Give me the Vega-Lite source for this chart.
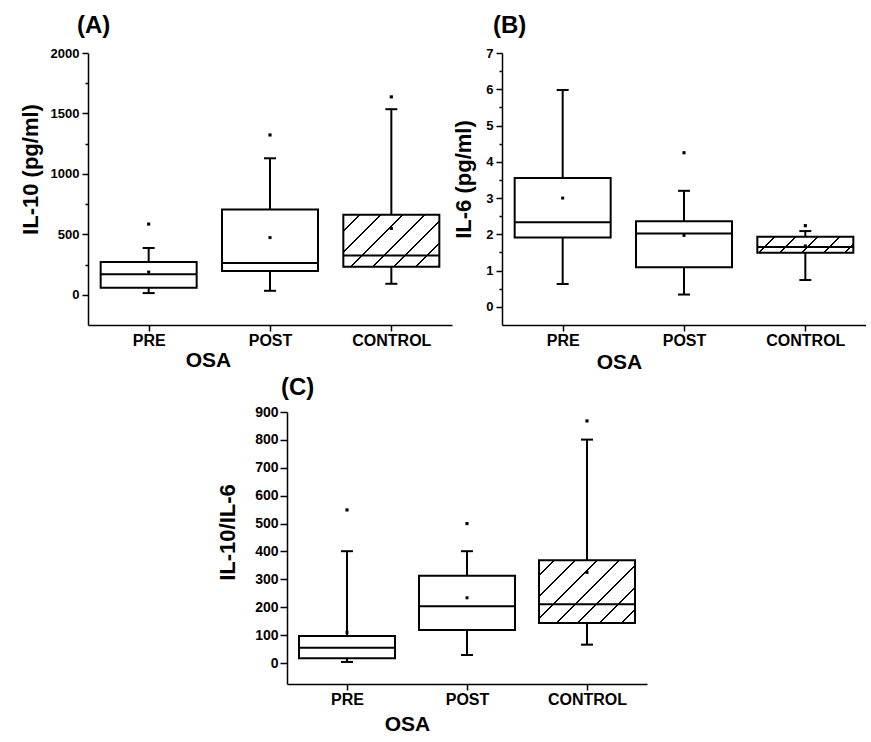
{
  "$schema": "https://vega.github.io/schema/vega-lite/v6.json",
  "padding": {"left": 19, "top": 14, "right": 0, "bottom": 0},
  "background": "white",
  "config": {
    "font": "Liberation Sans",
    "view": {"stroke": null},
    "axis": {
      "grid": false,
      "domainColor": "black",
      "domainWidth": 1.5,
      "tickColor": "black",
      "tickWidth": 1.5,
      "labelColor": "black",
      "labelFont": "Liberation Sans",
      "labelFontWeight": "bold",
      "labelOverlap": false,
      "labelFlush": false,
      "titleColor": "black",
      "titleFont": "Liberation Sans",
      "titleFontWeight": "bold"
    },
    "tick": {"opacity": 1},
    "title": {"font": "Liberation Sans", "fontWeight": "bold", "fontSize": 24, "color": "black", "anchor": "start", "frame": "group"}
  },
  "datasets": {
    "A": [
      {"group": "PRE", "lower": 14, "q1": 58, "median": 169, "q3": 271, "upper": 387, "mean": 188, "outlier": 585},
      {"group": "POST", "lower": 33, "q1": 197, "median": 263, "q3": 705, "upper": 1129, "mean": 473, "outlier": 1322},
      {"group": "CONTROL", "lower": 91, "q1": 232, "median": 324, "q3": 661, "upper": 1535, "mean": 548, "outlier": 1637}
    ],
    "B": [
      {"group": "PRE", "lower": 0.63, "q1": 1.91, "median": 2.33, "q3": 3.55, "upper": 5.98, "mean": 3.0, "outlier": null},
      {"group": "POST", "lower": 0.34, "q1": 1.09, "median": 2.02, "q3": 2.36, "upper": 3.2, "mean": 1.97, "outlier": 4.25},
      {"group": "CONTROL", "lower": 0.74, "q1": 1.49, "median": 1.65, "q3": 1.93, "upper": 2.09, "mean": 1.68, "outlier": 2.24}
    ],
    "C": [
      {"group": "PRE", "lower": 4, "q1": 17, "median": 55, "q3": 97, "upper": 401, "mean": 110, "outlier": 549},
      {"group": "POST", "lower": 29, "q1": 119, "median": 204, "q3": 313, "upper": 401, "mean": 234, "outlier": 500},
      {"group": "CONTROL", "lower": 66, "q1": 144, "median": 211, "q3": 369, "upper": 801, "mean": 325, "outlier": 868}
    ]
  },
  "spacing": 4,
  "vconcat": [
    {
      "spacing": 50,
      "bounds": "flush",
      "hconcat": [
        {
          "width": 364,
          "height": 272,
          "title": {"text": "(A)", "dx": -11, "offset": 9},
          "data": {"name": "A"},
          "encoding": {
            "x": {
              "field": "group", "type": "nominal", "sort": ["PRE", "POST", "CONTROL"],
              "scale": {"type": "point", "padding": 0.5},
              "axis": {"title": "OSA", "labelAngle": 0, "labelFontSize": 16, "labelPadding": 1, "tickSize": 6,
                       "titleFontSize": 21, "titleX": 120, "titleY": 41, "titleAlign": "center", "titleBaseline": "alphabetic"}
            }
          },
          "resolve": {"axis": {"y": "independent"}},
          "layer": [
            {
              "mark": {"type": "rule", "strokeWidth": 2, "color": "black"},
              "encoding": {
                "y": {"field": "lower", "type": "quantitative",
                      "scale": {"domain": [-250, 2000], "nice": false, "zero": false},
                      "axis": {"orient": "left", "offset": 0, "title": "IL-10 (pg/ml)", "values": [0, 500, 1000, 1500, 2000], "format": "d", "labelFontSize": 13, "labelPadding": 3, "tickSize": 6,
                               "titleFontSize": 22, "titleAngle": 270, "titleX": -51, "titleY": 116, "titleAlign": "center", "titleBaseline": "alphabetic"}},
                "y2": {"field": "upper"}
              }
            },
            {
              "mark": {"type": "square", "size": 10, "filled": true, "color": "black", "opacity": 1},
              "encoding": {"y": {"field": "outlier", "type": "quantitative",
                "axis": {"orient": "left", "offset": 0, "title": null, "labels": false, "domain": false, "tickSize": 3, "values": [250, 750, 1250, 1750]}}}
            },
            {"mark": {"type": "tick", "size": 12, "thickness": 2, "color": "black"}, "encoding": {"y": {"field": "lower", "type": "quantitative", "axis": null}}},
            {"mark": {"type": "tick", "size": 12, "thickness": 2, "color": "black"}, "encoding": {"y": {"field": "upper", "type": "quantitative", "axis": null}}},
            {
              "transform": [{"filter": "datum.group !== 'CONTROL'"}],
              "mark": {"type": "bar", "size": 96, "fill": "white", "stroke": "black", "strokeWidth": 2},
              "encoding": {"y": {"field": "q3", "type": "quantitative", "axis": null}, "y2": {"field": "q1"}}
            },
            {
              "transform": [{"filter": "datum.group === 'CONTROL'"}],
              "mark": {"type": "bar", "size": 96, "stroke": "black", "strokeWidth": 2,
                "fill": {"gradient": "linear", "x1": 0, "y1": 0, "x2": 1.1919, "y2": 0.6456, "stops": [
                  {"offset": 0, "color": "white"},
                  {"offset": 0.1014, "color": "white"}, {"offset": 0.1014, "color": "black"}, {"offset": 0.1149, "color": "black"}, {"offset": 0.1149, "color": "white"},
                  {"offset": 0.2480, "color": "white"}, {"offset": 0.2480, "color": "black"}, {"offset": 0.2615, "color": "black"}, {"offset": 0.2615, "color": "white"},
                  {"offset": 0.3946, "color": "white"}, {"offset": 0.3946, "color": "black"}, {"offset": 0.4081, "color": "black"}, {"offset": 0.4081, "color": "white"},
                  {"offset": 0.5412, "color": "white"}, {"offset": 0.5412, "color": "black"}, {"offset": 0.5547, "color": "black"}, {"offset": 0.5547, "color": "white"},
                  {"offset": 0.6878, "color": "white"}, {"offset": 0.6878, "color": "black"}, {"offset": 0.7014, "color": "black"}, {"offset": 0.7014, "color": "white"},
                  {"offset": 0.8345, "color": "white"}, {"offset": 0.8345, "color": "black"}, {"offset": 0.8480, "color": "black"}, {"offset": 0.8480, "color": "white"},
                  {"offset": 0.9811, "color": "white"}, {"offset": 0.9811, "color": "black"}, {"offset": 0.9946, "color": "black"}, {"offset": 0.9946, "color": "white"},
                  {"offset": 1, "color": "white"}
                ]}},
              "encoding": {"y": {"field": "q3", "type": "quantitative", "axis": null}, "y2": {"field": "q1"}}
            },
            {"mark": {"type": "tick", "size": 96, "thickness": 2, "color": "black"}, "encoding": {"y": {"field": "median", "type": "quantitative", "axis": null}}},
            {"mark": {"type": "square", "size": 9, "filled": true, "color": "black", "opacity": 1}, "encoding": {"y": {"field": "mean", "type": "quantitative", "axis": null}}}
          ]
        },
        {
          "width": 364,
          "height": 272,
          "title": {"text": "(B)", "dx": -9, "offset": 9},
          "data": {"name": "B"},
          "encoding": {
            "x": {
              "field": "group", "type": "nominal", "sort": ["PRE", "POST", "CONTROL"],
              "scale": {"type": "point", "padding": 0.5},
              "axis": {"title": "OSA", "labelAngle": 0, "labelFontSize": 16, "labelPadding": 1, "tickSize": 6,
                       "titleFontSize": 21, "titleX": 117, "titleY": 43, "titleAlign": "center", "titleBaseline": "alphabetic"}
            }
          },
          "resolve": {"axis": {"y": "independent"}},
          "layer": [
            {
              "mark": {"type": "rule", "strokeWidth": 2, "color": "black"},
              "encoding": {
                "y": {"field": "lower", "type": "quantitative",
                      "scale": {"domain": [-0.5, 7], "nice": false, "zero": false},
                      "axis": {"orient": "left", "offset": 0, "title": "IL-6 (pg/ml)", "values": [0, 1, 2, 3, 4, 5, 6, 7], "format": "d", "labelFontSize": 13, "labelPadding": 3, "tickSize": 6,
                               "titleFontSize": 22, "titleAngle": 270, "titleX": -32, "titleY": 126, "titleAlign": "center", "titleBaseline": "alphabetic"}},
                "y2": {"field": "upper"}
              }
            },
            {
              "mark": {"type": "square", "size": 10, "filled": true, "color": "black", "opacity": 1},
              "encoding": {"y": {"field": "outlier", "type": "quantitative",
                "axis": {"orient": "left", "offset": 0, "title": null, "labels": false, "domain": false, "tickSize": 3, "values": [0.5, 1.5, 2.5, 3.5, 4.5, 5.5, 6.5]}}}
            },
            {"mark": {"type": "tick", "size": 12, "thickness": 2, "color": "black"}, "encoding": {"y": {"field": "lower", "type": "quantitative", "axis": null}}},
            {"mark": {"type": "tick", "size": 12, "thickness": 2, "color": "black"}, "encoding": {"y": {"field": "upper", "type": "quantitative", "axis": null}}},
            {
              "transform": [{"filter": "datum.group !== 'CONTROL'"}],
              "mark": {"type": "bar", "size": 96, "fill": "white", "stroke": "black", "strokeWidth": 2},
              "encoding": {"y": {"field": "q3", "type": "quantitative", "axis": null}, "y2": {"field": "q1"}}
            },
            {
              "transform": [{"filter": "datum.group === 'CONTROL'"}],
              "mark": {"type": "bar", "size": 96, "stroke": "black", "strokeWidth": 2,
                "fill": {"gradient": "linear", "x1": 0, "y1": 0, "x2": 1.1351, "y2": 0.1892, "stops": [
                  {"offset": 0, "color": "white"},
                  {"offset": 0.1429, "color": "white"}, {"offset": 0.1429, "color": "black"}, {"offset": 0.1607, "color": "black"}, {"offset": 0.1607, "color": "white"},
                  {"offset": 0.3366, "color": "white"}, {"offset": 0.3366, "color": "black"}, {"offset": 0.3545, "color": "black"}, {"offset": 0.3545, "color": "white"},
                  {"offset": 0.5304, "color": "white"}, {"offset": 0.5304, "color": "black"}, {"offset": 0.5482, "color": "black"}, {"offset": 0.5482, "color": "white"},
                  {"offset": 0.7241, "color": "white"}, {"offset": 0.7241, "color": "black"}, {"offset": 0.7420, "color": "black"}, {"offset": 0.7420, "color": "white"},
                  {"offset": 0.9179, "color": "white"}, {"offset": 0.9179, "color": "black"}, {"offset": 0.9357, "color": "black"}, {"offset": 0.9357, "color": "white"},
                  {"offset": 1, "color": "white"}
                ]}},
              "encoding": {"y": {"field": "q3", "type": "quantitative", "axis": null}, "y2": {"field": "q1"}}
            },
            {"mark": {"type": "tick", "size": 96, "thickness": 2, "color": "black"}, "encoding": {"y": {"field": "median", "type": "quantitative", "axis": null}}},
            {"mark": {"type": "square", "size": 9, "filled": true, "color": "black", "opacity": 1}, "encoding": {"y": {"field": "mean", "type": "quantitative", "axis": null}}}
          ]
        }
      ]
    },
    {
      "spacing": 50,
      "bounds": "flush",
      "hconcat": [
        {"width": 149, "height": 272, "data": {"values": []}, "mark": "point", "encoding": {}},
        {
          "width": 360,
          "height": 272,
          "title": {"text": "(C)", "dx": -6, "offset": 5},
          "data": {"name": "C"},
          "encoding": {
            "x": {
              "field": "group", "type": "nominal", "sort": ["PRE", "POST", "CONTROL"],
              "scale": {"type": "point", "padding": 0.5},
              "axis": {"title": "OSA", "labelAngle": 0, "labelFontSize": 16, "labelPadding": 1, "tickSize": 6,
                       "titleFontSize": 21, "titleX": 120, "titleY": 46, "titleAlign": "center", "titleBaseline": "alphabetic"}
            }
          },
          "resolve": {"axis": {"y": "independent"}},
          "layer": [
            {
              "mark": {"type": "rule", "strokeWidth": 2, "color": "black"},
              "encoding": {
                "y": {"field": "lower", "type": "quantitative",
                      "scale": {"domain": [-75, 900], "nice": false, "zero": false},
                      "axis": {"orient": "left", "offset": 0, "title": "IL-10/IL-6", "values": [0, 100, 200, 300, 400, 500, 600, 700, 800, 900], "format": "d", "labelFontSize": 14, "labelPadding": 2, "tickSize": 7,
                               "titleFontSize": 22, "titleAngle": 270, "titleX": -53, "titleY": 120, "titleAlign": "center", "titleBaseline": "alphabetic"}},
                "y2": {"field": "upper"}
              }
            },
            {"mark": {"type": "tick", "size": 12, "thickness": 2, "color": "black"}, "encoding": {"y": {"field": "lower", "type": "quantitative", "axis": null}}},
            {"mark": {"type": "tick", "size": 12, "thickness": 2, "color": "black"}, "encoding": {"y": {"field": "upper", "type": "quantitative", "axis": null}}},
            {
              "transform": [{"filter": "datum.group !== 'CONTROL'"}],
              "mark": {"type": "bar", "size": 96, "fill": "white", "stroke": "black", "strokeWidth": 2},
              "encoding": {"y": {"field": "q3", "type": "quantitative", "axis": null}, "y2": {"field": "q1"}}
            },
            {
              "transform": [{"filter": "datum.group === 'CONTROL'"}],
              "mark": {"type": "bar", "size": 96, "stroke": "black", "strokeWidth": 2,
                "fill": {"gradient": "linear", "x1": 0, "y1": 0, "x2": 1.1577, "y2": 0.7597, "stops": [
                  {"offset": 0, "color": "white"},
                  {"offset": 0.0881, "color": "white"}, {"offset": 0.0881, "color": "black"}, {"offset": 0.1006, "color": "black"}, {"offset": 0.1006, "color": "white"},
                  {"offset": 0.2245, "color": "white"}, {"offset": 0.2245, "color": "black"}, {"offset": 0.2371, "color": "black"}, {"offset": 0.2371, "color": "white"},
                  {"offset": 0.3610, "color": "white"}, {"offset": 0.3610, "color": "black"}, {"offset": 0.3736, "color": "black"}, {"offset": 0.3736, "color": "white"},
                  {"offset": 0.4975, "color": "white"}, {"offset": 0.4975, "color": "black"}, {"offset": 0.5101, "color": "black"}, {"offset": 0.5101, "color": "white"},
                  {"offset": 0.6340, "color": "white"}, {"offset": 0.6340, "color": "black"}, {"offset": 0.6465, "color": "black"}, {"offset": 0.6465, "color": "white"},
                  {"offset": 0.7704, "color": "white"}, {"offset": 0.7704, "color": "black"}, {"offset": 0.7830, "color": "black"}, {"offset": 0.7830, "color": "white"},
                  {"offset": 0.9069, "color": "white"}, {"offset": 0.9069, "color": "black"}, {"offset": 0.9195, "color": "black"}, {"offset": 0.9195, "color": "white"},
                  {"offset": 1, "color": "white"}
                ]}},
              "encoding": {"y": {"field": "q3", "type": "quantitative", "axis": null}, "y2": {"field": "q1"}}
            },
            {"mark": {"type": "tick", "size": 96, "thickness": 2, "color": "black"}, "encoding": {"y": {"field": "median", "type": "quantitative", "axis": null}}},
            {"mark": {"type": "square", "size": 9, "filled": true, "color": "black", "opacity": 1}, "encoding": {"y": {"field": "mean", "type": "quantitative", "axis": null}}},
            {"mark": {"type": "square", "size": 10, "filled": true, "color": "black", "opacity": 1}, "encoding": {"y": {"field": "outlier", "type": "quantitative", "axis": null}}}
          ]
        }
      ]
    }
  ]
}
